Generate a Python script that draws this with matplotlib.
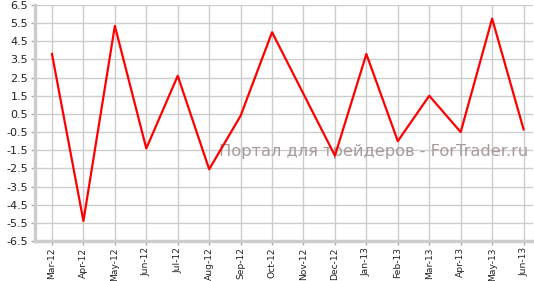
import numpy as np
import matplotlib
matplotlib.use("Agg")
import matplotlib.pyplot as plt

# Monthly values
months = ["Mar-12", "Apr-12", "May-12", "Jun-12", "Jul-12", "Aug-12",
          "Sep-12", "Oct-12", "Nov-12", "Dec-12", "Jan-13", "Feb-13",
          "Mar-13", "Apr-13", "May-13", "Jun-13"]
values = [3.8, -5.4, 5.35, -1.4, 2.6, -2.55, 0.4, 5.0, 1.6, -1.8,
          3.8, -1.0, 1.5, -0.5, 5.75, -0.35]
yticks = np.arange(-6.5, 7.0, 1.0)

fig = plt.figure(figsize=(5.34, 2.81), dpi=100)
ax = fig.add_axes([35/534, 40/281, 498/534, 236/281])

x = np.arange(len(months))
ax.plot(x, values, color="#ff0000", lw=1.6, zorder=3)

ax.set_xlim(-0.54, 15.3)
ax.set_ylim(-6.5, 6.5)
ax.set_xticks(x)
ax.set_xticklabels(months, rotation=90, fontsize=6.6, color="#222222")
ax.set_yticks(yticks)
ax.set_yticklabels([f"{v:.1f}" for v in yticks], fontsize=8, color="#222222")

ax.grid(True, color="#cccccc", lw=1.0)
ax.set_axisbelow(True)
for side in ["top", "right"]:
    ax.spines[side].set_visible(False)
for side in ["left", "bottom"]:
    ax.spines[side].set_color("#cccccc")
    ax.spines[side].set_linewidth(2.5)
ax.tick_params(length=3, width=1, color="#aaaaaa", pad=2)
ax.tick_params(axis="x", pad=1.5)

# watermark
ax.text(0.99, 0.38, "Портал для трейдеров - ForTrader.ru", transform=ax.transAxes,
        ha="right", va="center", fontsize=11.7, color="#a89a9a", zorder=2)

fig.savefig("out.png", dpi=100)
